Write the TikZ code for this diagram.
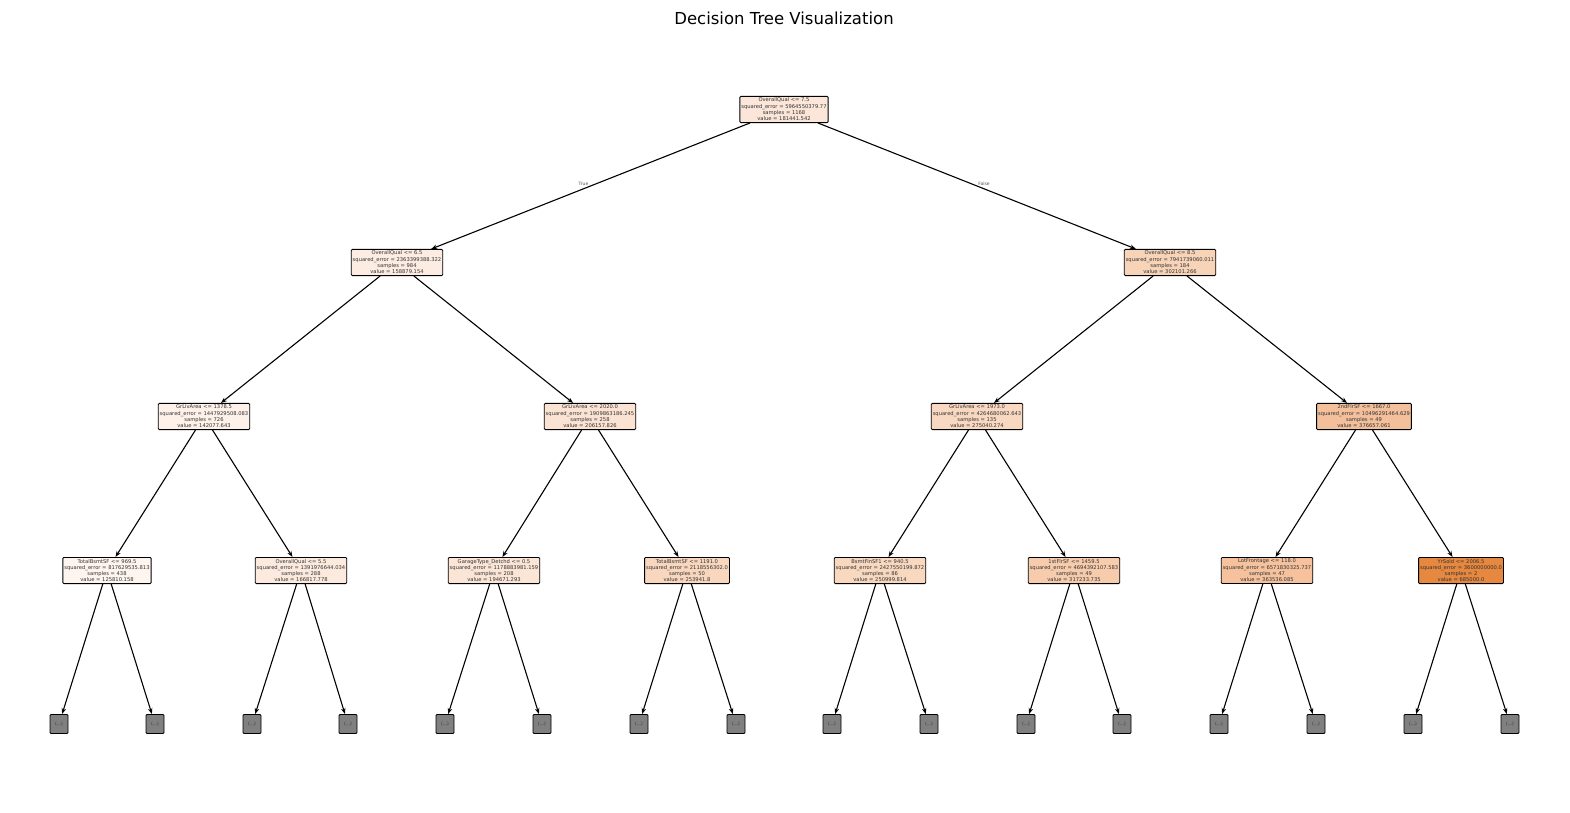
\documentclass[tikz,border=0pt]{standalone}
\usepackage{fontspec}
\setmainfont{DejaVu Sans}
\usetikzlibrary{arrows.meta}
\definecolor{c0}{HTML}{FBE6D9}
\definecolor{c1}{HTML}{FCECE2}
\definecolor{c2}{HTML}{F7D3B8}
\definecolor{c3}{HTML}{FDF1E9}
\definecolor{c4}{HTML}{FBE3D3}
\definecolor{c5}{HTML}{F9D8C1}
\definecolor{c6}{HTML}{F4C09C}
\definecolor{c7}{HTML}{FEF5EF}
\definecolor{c8}{HTML}{FCEADE}
\definecolor{c9}{HTML}{FBE5D7}
\definecolor{c10}{HTML}{F9D7BF}
\definecolor{c11}{HTML}{F9D8C0}
\definecolor{c12}{HTML}{F7CCAD}
\definecolor{c13}{HTML}{F5C29D}
\definecolor{c14}{HTML}{E6883F}
\definecolor{leafgrey}{HTML}{808080}
\definecolor{lbl}{HTML}{555555}
\tikzset{
  tn/.style={draw=black, line width=0.9pt, rounded corners=1pt, align=center,
    font=\fontsize{5.2}{6.3}\selectfont, inner xsep=1.5pt, inner ysep=1.6pt, text=black!80},
  lf/.style={draw=black, line width=0.9pt, rounded corners=1pt, fill=leafgrey,
    minimum width=18pt, minimum height=19pt, inner sep=0pt,
    font=\fontsize{4.5}{5}\selectfont, text=black!80},
  ed/.style={line width=1.1pt, -{Stealth[length=6pt,width=4.5pt]}},
  el/.style={font=\fontsize{4.5}{5}\selectfont, text=lbl, inner sep=0.5pt}
}
\begin{document}
\begin{tikzpicture}[x=1pt,y=-1pt]
\useasboundingbox (0,0) rectangle (1570,812);
\node[font=\fontsize{16.5}{20}\selectfont] (title) at (784,18) {Decision Tree Visualization};

\node[tn,fill=c0] (r) at (784,109.5) {OverallQual <= 7.5\\squared\_error = 5964550379.77\\samples = 1168\\value = 181441.542};

\node[tn,fill=c1] (a) at (397,262.5) {OverallQual <= 6.5\\squared\_error = 2363399388.322\\samples = 984\\value = 158879.154};
\node[tn,fill=c2] (b) at (1170,262.5) {OverallQual <= 8.5\\squared\_error = 7941739060.011\\samples = 184\\value = 302101.266};

\node[tn,fill=c3] (aa) at (204,416.5) {GrLivArea <= 1378.5\\squared\_error = 1447929508.083\\samples = 726\\value = 142077.643};
\node[tn,fill=c4] (ab) at (590,416.5) {GrLivArea <= 2020.0\\squared\_error = 1909863186.245\\samples = 258\\value = 206157.826};
\node[tn,fill=c5] (ba) at (977,416.5) {GrLivArea <= 1973.0\\squared\_error = 4264680062.643\\samples = 135\\value = 275040.274};
\node[tn,fill=c6] (bb) at (1364,416.5) {2ndFlrSF <= 1667.0\\squared\_error = 10496291464.629\\samples = 49\\value = 376657.061};

\node[tn,fill=c7] (aaa) at (107,570.5) {TotalBsmtSF <= 969.5\\squared\_error = 817629535.813\\samples = 438\\value = 125810.158};
\node[tn,fill=c8] (aab) at (301,570.5) {OverallQual <= 5.5\\squared\_error = 1391976644.034\\samples = 288\\value = 166817.778};
\node[tn,fill=c9] (aba) at (494,570.5) {GarageType\_Detchd <= 0.5\\squared\_error = 1178883981.159\\samples = 208\\value = 194671.293};
\node[tn,fill=c10] (abb) at (687,570.5) {TotalBsmtSF <= 1191.0\\squared\_error = 2118556302.0\\samples = 50\\value = 253941.8};
\node[tn,fill=c11] (baa) at (880,570.5) {BsmtFinSF1 <= 940.5\\squared\_error = 2427550199.872\\samples = 86\\value = 250999.814};
\node[tn,fill=c12] (bab) at (1074,570.5) {1stFlrSF <= 1459.5\\squared\_error = 4694392107.583\\samples = 49\\value = 317233.735};
\node[tn,fill=c13] (bba) at (1267,570.5) {LotFrontage <= 118.0\\squared\_error = 6571830325.737\\samples = 47\\value = 363536.085};
\node[tn,fill=c14] (bbb) at (1461,570.5) {YrSold <= 2006.5\\squared\_error = 3600000000.0\\samples = 2\\value = 685000.0};

\foreach \n/\x in {l1/59,l2/155,l3/252,l4/348,l5/445,l6/542,l7/639,l8/736,l9/832,l10/929,l11/1026,l12/1122,l13/1219,l14/1316,l15/1413,l16/1510}
  \node[lf] (\n) at (\x,724) {(...)};

\draw[ed] (r) -- node[el,pos=0.5,xshift=-7pt,yshift=2pt] {True} (a);
\draw[ed] (r) -- node[el,pos=0.5,xshift=7pt,yshift=2pt] {False} (b);
\draw[ed] (a) -- (aa);
\draw[ed] (a) -- (ab);
\draw[ed] (b) -- (ba);
\draw[ed] (b) -- (bb);
\draw[ed] (aa) -- (aaa);
\draw[ed] (aa) -- (aab);
\draw[ed] (ab) -- (aba);
\draw[ed] (ab) -- (abb);
\draw[ed] (ba) -- (baa);
\draw[ed] (ba) -- (bab);
\draw[ed] (bb) -- (bba);
\draw[ed] (bb) -- (bbb);
\draw[ed] (aaa) -- (l1);
\draw[ed] (aaa) -- (l2);
\draw[ed] (aab) -- (l3);
\draw[ed] (aab) -- (l4);
\draw[ed] (aba) -- (l5);
\draw[ed] (aba) -- (l6);
\draw[ed] (abb) -- (l7);
\draw[ed] (abb) -- (l8);
\draw[ed] (baa) -- (l9);
\draw[ed] (baa) -- (l10);
\draw[ed] (bab) -- (l11);
\draw[ed] (bab) -- (l12);
\draw[ed] (bba) -- (l13);
\draw[ed] (bba) -- (l14);
\draw[ed] (bbb) -- (l15);
\draw[ed] (bbb) -- (l16);
\end{tikzpicture}
\end{document}
